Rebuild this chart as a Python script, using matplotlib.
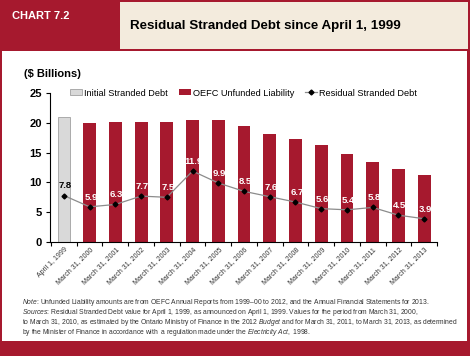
import matplotlib.pyplot as plt
import matplotlib.patches as mpatches
import numpy as np

plt.rcParams['font.family'] = ['Liberation Sans', 'DejaVu Sans']
plt.rcParams['mathtext.fontset'] = 'custom'
plt.rcParams['mathtext.rm'] = 'Liberation Sans'
plt.rcParams['mathtext.it'] = 'Liberation Sans:italic'

# Data
categories = ['April 1, 1999', 'March 31, 2000', 'March 31, 2001', 'March 31, 2002',
              'March 31, 2003', 'March 31, 2004', 'March 31, 2005', 'March 31, 2006',
              'March 31, 2007', 'March 31, 2008', 'March 31, 2009', 'March 31, 2010',
              'March 31, 2011', 'March 31, 2012', 'March 31, 2013']
initial_debt = [21.0]
unfunded_liability = [20.0, 20.1, 20.1, 20.2, 20.5, 20.4, 19.4, 18.2, 17.2, 16.2, 14.8, 13.5, 12.3, 11.2]
residual_debt = [7.8, 5.9, 6.3, 7.7, 7.5, 11.9, 9.9, 8.5, 7.6, 6.7, 5.6, 5.4, 5.8, 4.5, 3.9]

RED = '#A6192E'
BEIGE = '#F3EBDD'

fig = plt.figure(figsize=(4.7, 3.56), dpi=100)
fig.patch.set_facecolor(RED)

W, H = 470, 356
def box(x0, y0, x1, y1, color):
    fig.add_artist(mpatches.Rectangle((x0 / W, 1 - y1 / H), (x1 - x0) / W, (y1 - y0) / H,
                                      transform=fig.transFigure, facecolor=color,
                                      edgecolor='none', zorder=0))

# header and white panel
box(120, 2, 468, 49, BEIGE)
box(2, 51, 467, 341, 'white')
fig.text(12 / W, 1 - 16 / H, 'CHART 7.2', color='white', fontsize=8, fontweight='bold',
         va='center', ha='left')
fig.text(130 / W, 1 - 26 / H, 'Residual Stranded Debt since April 1, 1999', color='black',
         fontsize=9.6, fontweight='bold', va='center', ha='left')

ax = fig.add_axes([50 / W, 1 - 242 / H, (437 - 50) / W, (242 - 93) / H])
ax.set_facecolor('none')

x = np.arange(len(categories))
b1 = ax.bar(x[:1], initial_debt, width=0.48, color='#D9D9D9', edgecolor='#A0A0A0', linewidth=0.6,
            label='Initial Stranded Debt')
b2 = ax.bar(x[1:], unfunded_liability, width=0.5, color=RED, label='OEFC Unfunded Liability')
ln, = ax.plot(x, residual_debt, color='#8C8C8C', linewidth=0.9, marker='D', markersize=2.5,
              markerfacecolor='black', markeredgecolor='black', label='Residual Stranded Debt')

for i, v in enumerate(residual_debt):
    col = 'black' if i == 0 else 'white'
    ax.text(x[i] + 0.05, v + 1.6, f'{v:.1f}', color=col, fontsize=6.8, fontweight='bold',
            ha='center', va='center')

ax.set_xlim(-0.54, 14.5)
ax.set_ylim(0, 25)
ax.set_yticks([0, 5, 10, 15, 20, 25])
ax.tick_params(axis='y', labelsize=8, length=3, width=0.8, pad=3)
for lab in ax.get_yticklabels():
    lab.set_fontweight('bold')
ax.set_xticks(x)
ax.set_xticklabels(categories, rotation=45, ha='right', rotation_mode='anchor',
                   fontsize=5, color='#333333')
ax.tick_params(axis='x', length=0, pad=3)
ax.set_xticks(np.arange(-0.5, 14.6, 1), minor=True)
ax.tick_params(axis='x', which='minor', length=3, width=0.8, direction='out')
for s in ['top', 'right']:
    ax.spines[s].set_visible(False)
ax.spines['left'].set_linewidth(0.8)
ax.spines['bottom'].set_linewidth(0.8)

fig.text(24 / W, 1 - 74 / H, '($ Billions)', fontsize=8, fontweight='bold', va='center')

ax.legend(handles=[b1, b2, ln], loc='center', bbox_to_anchor=(0.50, 1.0), ncol=3,
          frameon=False, fontsize=6.6, handlelength=1.3, handleheight=0.6,
          handletextpad=0.2, columnspacing=1.2, borderaxespad=0)

notes = [
    r'$\it{Note}$: Unfunded Liability amounts are from OEFC Annual Reports from 1999–00 to 2012, and the Annual Financial Statements for 2013.',
    r'$\it{Sources}$: Residual Stranded Debt value for April 1, 1999, as announced on April 1, 1999. Values for the period from March 31, 2000,',
    'to March 31, 2010, as estimated by the Ontario Ministry of Finance in the $\\it{2012\\ Budget}$ and for March 31, 2011, to March 31, 2013, as determined',
    'by the Minister of Finance in accordance with  a regulation made under the $\\it{Electricity\\ Act,\\ 1998}$.',
]
for k, t in enumerate(notes):
    fig.text(22 / W, 1 - (302 + k * 10.3) / H, t, fontsize=4.85, color='#333333', va='center')

fig.savefig('out.png', dpi=100, facecolor=fig.get_facecolor())
